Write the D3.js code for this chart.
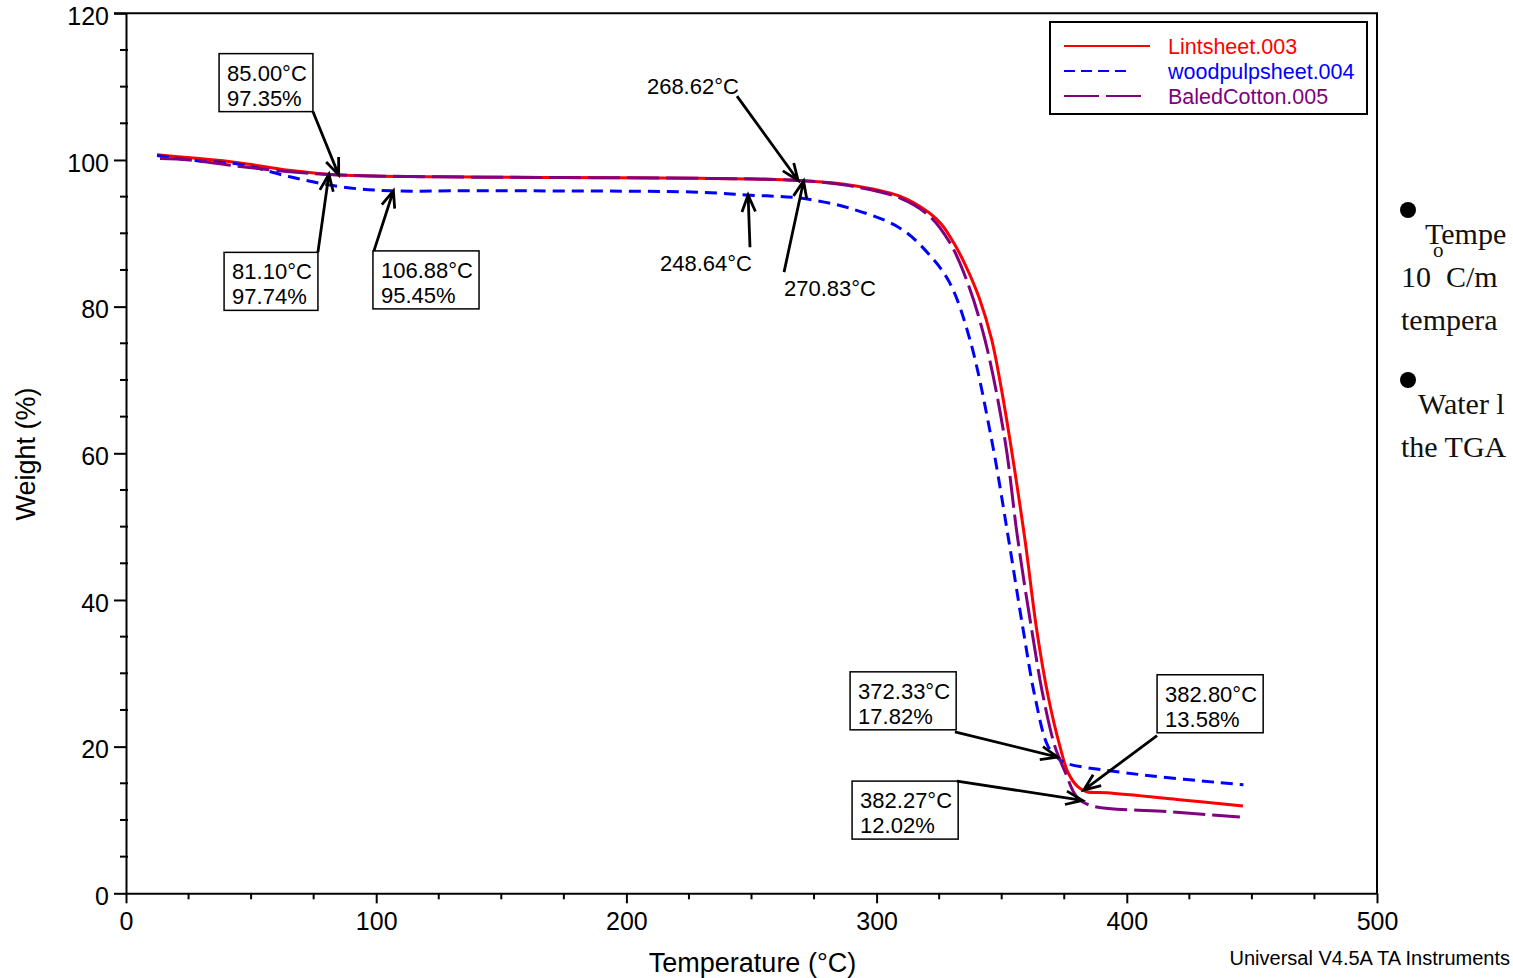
<!DOCTYPE html>
<html>
<head>
<meta charset="utf-8">
<script src="https://cdn.jsdelivr.net/npm/d3@7"></script>
<style>
  html, body { margin: 0; padding: 0; overflow: hidden; background: #fff; }
  svg text { font-family: "Liberation Sans", Arial, sans-serif; }
  svg text.serif { font-family: "Liberation Serif", "DejaVu Serif", serif; }
</style>
</head>
<body>
<svg id="chart" width="1513" height="978"></svg>
<script>
// ---- data ----
const lintTemp   = [12.4, 25.6, 45.6, 65, 85.5, 125, 175, 229, 269, 289, 309, 321, 326, 331, 336, 341, 346, 349.5, 353.3, 359.3, 364, 368.6, 373.3, 376.6, 380.5, 384, 392, 420, 446.4];
const lintWeight = [100.7, 100.3, 99.6, 98.6, 97.95, 97.7, 97.6, 97.5, 97.2, 96.6, 95.1, 92.8, 91.2, 88.6, 85.3, 81.2, 75.5, 69.5, 61.8, 48.2, 35.9, 26.8, 20.0, 16.4, 14.5, 13.85, 13.7, 12.8, 11.9];

const woodTemp   = [12.4, 25.6, 45.6, 65.5, 85.5, 105.5, 140, 229.4, 249.4, 269.4, 289.4, 309.4, 321.3, 329.3, 337.3, 346, 352.6, 358.6, 363.3, 368.6, 373.3, 376, 405, 446.6];
const woodWeight = [100.6, 100.0, 99.4, 97.7, 96.35, 95.8, 95.8, 95.6, 95.2, 94.8, 93.4, 90.7, 87.0, 83.2, 75.5, 61.8, 48.6, 35.9, 26.8, 20.0, 18.2, 17.7, 16.2, 14.8];

const baledTemp   = [13.6, 25.6, 45.6, 65.5, 85.5, 125, 175, 229, 269, 289, 309.4, 321.3, 329.3, 336, 343.3, 351.3, 356.3, 362, 366.6, 371.3, 375.3, 379.9, 385.3, 418.5, 445.2];
const baledWeight = [100.2, 100.0, 99.1, 98.4, 97.95, 97.7, 97.6, 97.5, 97.2, 96.5, 94.8, 92.3, 88.7, 83.6, 75.5, 61.8, 48.6, 35.9, 26.8, 20.0, 16.6, 13.2, 12.0, 11.1, 10.4];

const seriesNames = ["Lintsheet.003", "woodpulpsheet.004", "BaledCotton.005"];

const tempTicks = [0, 100, 200, 300, 400, 500];
const tempMinorTicks = d3.range(0, 501, 25);
const weightTicks = [0, 20, 40, 60, 80, 100, 120];
const weightMinorTicks = d3.range(0, 121, 5);

// annotations: label lines, temperature marked, curve it points to
const annoText = [["85.00°C", "97.35%"], ["81.10°C", "97.74%"], ["106.88°C", "95.45%"],
                  ["268.62°C"], ["248.64°C"], ["270.83°C"],
                  ["372.33°C", "17.82%"], ["382.27°C", "12.02%"], ["382.80°C", "13.58%"]];
const annoTemp = [85.00, 81.10, 106.88, 268.62, 248.64, 270.83, 372.33, 382.27, 382.80];
const annoSeries = [0, 2, 1, 0, 1, 2, 1, 2, 0];

// ---- layout ----
const W = 1513, H = 978;
const margin = { top: 13.3, right: 136, bottom: 84.7, left: 126 };

const x = d3.scaleLinear().domain([0, 500]).range([margin.left, W - margin.right]);
const y = d3.scaleLinear().domain([0, 120]).range([H - margin.bottom, margin.top]);

// label anchor and arrow tail, in data units (temperature, weight)
const annoLabelAt = [[37.2, 114.5], [39.2, 87.4], [98.7, 87.6], [208.2, 109.0], [213.4, 84.9], [263.0, 81.5],
                     [289.4, 30.2], [290.2, 15.3], [412.1, 29.8]];
const annoTailAt = [[74.7, 106.6], [76.7, 87.4], [99.1, 87.6], [244.2, 108.7], [249.4, 88.1], [263.0, 84.7],
                    [331.3, 22.0], [332.1, 15.3], [412.1, 21.5]];

const colors = ["#ff0000", "#0000ff", "#800080"];
const dashes = [null, "12,7", "32,7"];
const legendDashes = [null, "11,6", "35,7"];
const legendLen = [86, 66, 78];

const series = [
  lintTemp.map((t, i) => [t, lintWeight[i]]),
  woodTemp.map((t, i) => [t, woodWeight[i]]),
  baledTemp.map((t, i) => [t, baledWeight[i]])
];

const svg = d3.select("#chart");

// axes
const yAxis = svg.append("g")
  .attr("transform", `translate(${margin.left},0)`)
  .call(d3.axisLeft(y).tickValues(weightTicks).tickSize(12).tickSizeOuter(0).tickPadding(5));
yAxis.selectAll("text").attr("font-size", 25).attr("dy", "0.45em").attr("fill", "#000");

const xAxis = svg.append("g")
  .attr("transform", `translate(0,${y(0)})`)
  .call(d3.axisBottom(x).tickValues(tempTicks).tickSize(10).tickSizeOuter(0).tickPadding(9));
xAxis.selectAll("text").attr("font-size", 25).attr("fill", "#000");

[yAxis, xAxis].forEach(g => {
  g.select(".domain").attr("stroke", "#000").attr("stroke-width", 2);
  g.selectAll(".tick line").attr("stroke", "#000").attr("stroke-width", 2);
});

// minor ticks
svg.append("g").selectAll("line")
  .data(weightMinorTicks.filter(v => weightTicks.indexOf(v) < 0))
  .join("line")
  .attr("x1", x(0) - 6).attr("x2", x(0) + 2)
  .attr("y1", d => y(d)).attr("y2", d => y(d))
  .attr("stroke", "#000").attr("stroke-width", 2);

svg.append("g").selectAll("line")
  .data(tempMinorTicks.filter(v => tempTicks.indexOf(v) < 0))
  .join("line")
  .attr("x1", d => x(d)).attr("x2", d => x(d))
  .attr("y1", y(0)).attr("y2", y(0) + 6)
  .attr("stroke", "#000").attr("stroke-width", 2);

// frame (top and right edges)
svg.append("path")
  .attr("d", `M${x(0) - 12},${y(120)}H${x(500)}V${y(0)}`)
  .attr("fill", "none").attr("stroke", "#000").attr("stroke-width", 2);

// axis titles
svg.append("text")
  .attr("transform", `translate(35,454) rotate(-90)`)
  .attr("text-anchor", "middle").attr("font-size", 27)
  .text("Weight (%)");

svg.append("text")
  .attr("x", (x(0) + x(500)) / 2 + 1).attr("y", 972)
  .attr("text-anchor", "middle").attr("font-size", 27)
  .text("Temperature (°C)");

svg.append("text")
  .attr("x", 1510).attr("y", 965)
  .attr("text-anchor", "end").attr("font-size", 20)
  .text("Universal V4.5A TA Instruments");

// curves
const line = d3.line()
  .x(d => x(d[0]))
  .y(d => y(d[1]))
  .curve(d3.curveCatmullRom.alpha(0.5));

svg.append("g").selectAll("path")
  .data(series)
  .join("path")
  .attr("d", line)
  .attr("fill", "none")
  .attr("stroke", (d, i) => colors[i])
  .attr("stroke-width", 3)
  .attr("stroke-dasharray", (d, i) => dashes[i]);

// legend
const legend = svg.append("g");
legend.append("rect")
  .attr("x", 1050).attr("y", 22).attr("width", 317).attr("height", 92)
  .attr("fill", "#fff").attr("stroke", "#000").attr("stroke-width", 2);

const item = legend.selectAll("g.item")
  .data(seriesNames)
  .join("g")
  .attr("class", "item")
  .attr("transform", (d, i) => `translate(1064,${46 + i * 25})`);

item.append("line")
  .attr("x1", 0).attr("x2", (d, i) => legendLen[i])
  .attr("stroke", (d, i) => colors[i]).attr("stroke-width", 2)
  .attr("stroke-dasharray", (d, i) => legendDashes[i]);

item.append("text")
  .attr("x", 104).attr("y", 8)
  .attr("font-size", 21.5).attr("fill", (d, i) => colors[i])
  .text(d => d);

// annotations
function weightAt(s, t) {
  const pts = series[s];
  const i = d3.bisector(d => d[0]).left(pts, t);
  if (i <= 0) return pts[0][1];
  if (i >= pts.length) return pts[pts.length - 1][1];
  const a = pts[i - 1], b = pts[i];
  return a[1] + (b[1] - a[1]) * (t - a[0]) / (b[0] - a[0]);
}

const annoG = svg.append("g");
annoText.forEach((lines, i) => {
  const g = annoG.append("g");
  const lx = x(annoLabelAt[i][0]), ly = y(annoLabelAt[i][1]);
  const boxed = lines.length > 1;

  const txt = g.append("text").attr("font-size", 22).attr("fill", "#000");
  lines.forEach((l, j) => {
    txt.append("tspan")
      .attr("x", boxed ? lx + 8 : lx)
      .attr("y", boxed ? ly + 27 + j * 25 : ly)
      .text(l);
  });

  if (boxed) {
    const tw = txt.node().getBBox().width;
    g.insert("rect", "text")
      .attr("x", lx).attr("y", ly)
      .attr("width", tw + 14).attr("height", 58)
      .attr("fill", "#fff").attr("stroke", "#000").attr("stroke-width", 1.5);
  }

  // arrow
  const tx = x(annoTailAt[i][0]), ty = y(annoTailAt[i][1]);
  const px = x(annoTemp[i]), py = y(weightAt(annoSeries[i], annoTemp[i]));
  const ang = Math.atan2(py - ty, px - tx);
  const hl = 18, ha = 22 * Math.PI / 180;
  g.append("path")
    .attr("d", `M${tx},${ty}L${px},${py}` +
      `M${px - hl * Math.cos(ang - ha)},${py - hl * Math.sin(ang - ha)}L${px},${py}` +
      `L${px - hl * Math.cos(ang + ha)},${py - hl * Math.sin(ang + ha)}`)
    .attr("fill", "none").attr("stroke", "#000").attr("stroke-width", 2.8)
    .attr("stroke-linejoin", "miter");
});

// slide text at the right edge (only its visible part)
const side = svg.append("g").attr("fill", "#111");
side.append("circle").attr("cx", 1408).attr("cy", 210).attr("r", 8).attr("fill", "#000");
side.append("circle").attr("cx", 1408).attr("cy", 380).attr("r", 8).attr("fill", "#000");
const sideLines = [
  { x: 1425, y: 244, s: 30, t: "Tempe" },
  { x: 1433, y: 257, s: 21, t: "o" },
  { x: 1401, y: 287, s: 30, t: "10  C/m" },
  { x: 1401, y: 330, s: 30, t: "tempera" },
  { x: 1418, y: 414, s: 30, t: "Water l" },
  { x: 1401, y: 457, s: 30, t: "the TGA" }
];
side.selectAll("text")
  .data(sideLines)
  .join("text")
  .attr("class", "serif")
  .attr("x", d => d.x).attr("y", d => d.y)
  .attr("font-size", d => d.s)
  .attr("xml:space", "preserve")
  .style("white-space", "pre")
  .text(d => d.t);
</script>
</body>
</html>
